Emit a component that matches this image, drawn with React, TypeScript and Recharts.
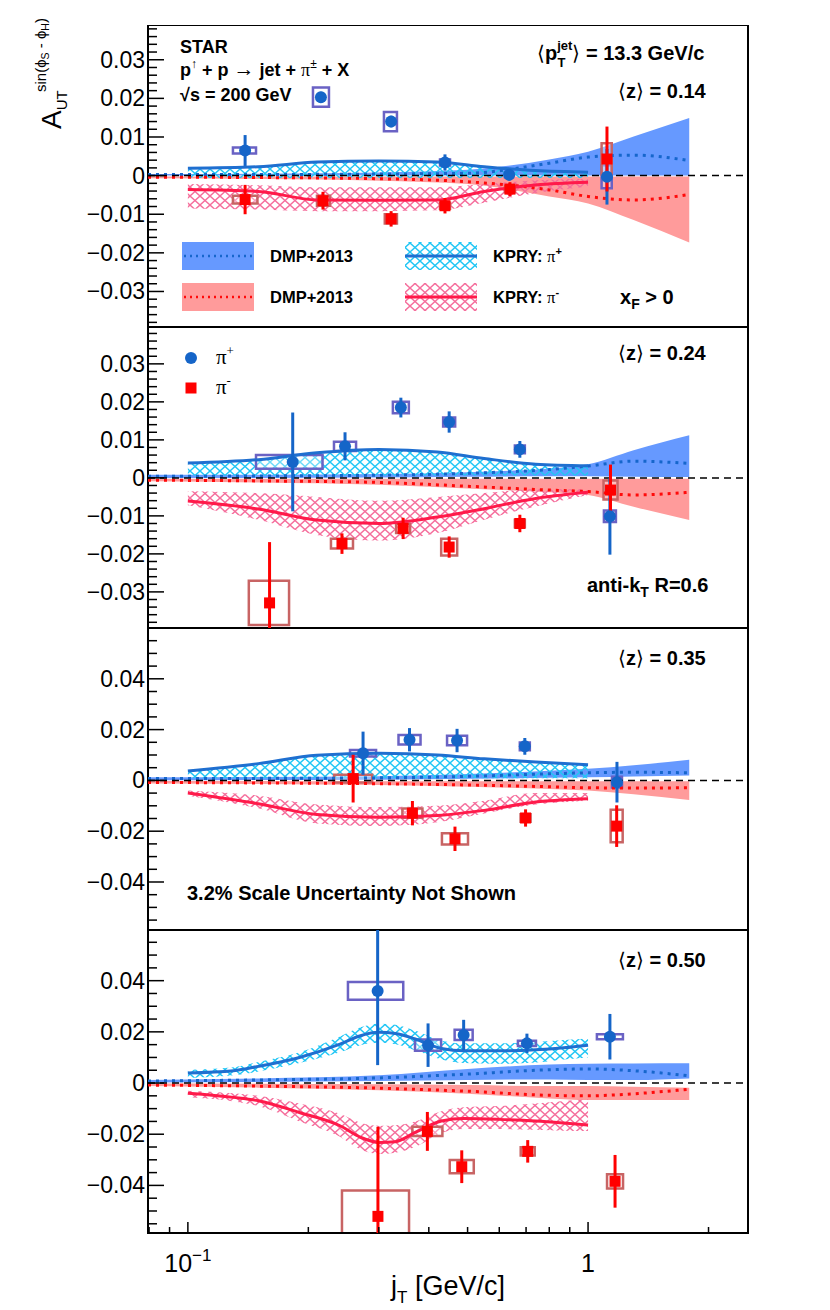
import React from "react";
import {
  ComposedChart, Area, Line, Scatter, ErrorBar, XAxis, YAxis, ReferenceLine, ReferenceArea
} from "recharts";

const FONT = '"Liberation Sans", Arial, Helvetica, sans-serif';
const SERIF = '"Liberation Serif", "DejaVu Serif", serif';

// colours
const BLUE_PT = "#1565c8";
const RED_PT = "#ff0000";
const BOX_BLUE = "#6a62c4";
const BOX_RED = "#c86464";
const BAND_BLUE = "#6699ff";
const BAND_RED = "#ff9b9b";
const DOT_BLUE = "#1666cc";
const DOT_RED = "#ff0a0a";
const LINE_BLUE = "#1f6fd0";
const LINE_RED = "#ff1a4a";
const HATCH_CYAN = "#20c6f5";
const HATCH_PINK = "#f56e9c";

// x axis (log jT)
const X_DOMAIN = [0.0795, 2.51];
const X_MAJOR = [0.1, 1];
const X_MAJOR_LABELS = ["10^−1", "1"];
const X_TICKS = [0.08, 0.09, 0.1, 0.2, 0.3, 0.4, 0.5, 0.6, 0.7, 0.8, 0.9, 1, 2];

// y axis labels
const Y_MAJOR_A = [-0.03, -0.02, -0.01, 0, 0.01, 0.02, 0.03];
const Y_LABELS_A = ["−0.03", "−0.02", "−0.01", "0", "0.01", "0.02", "0.03"];
const Y_MAJOR_B = [-0.04, -0.02, 0, 0.02, 0.04];
const Y_LABELS_B = ["−0.04", "−0.02", "0", "0.02", "0.04"];

// model grids
const dmpX = [0.0795, 0.15, 0.3, 0.5, 0.8, 1.0, 1.3, 1.79];
const kpryX = [0.1, 0.15, 0.21, 0.3, 0.42, 0.55, 0.74, 1.0];
const kpryX4 = [0.1, 0.13, 0.15, 0.19, 0.24, 0.27, 0.3, 0.33, 0.37, 0.43, 0.49, 0.6, 0.74, 0.87, 1.0];

// data rows: [jT, A_UT, stat, sys, box jT low, box jT high]
type Row = number[];

const z14Plus: Row[] = [
  [0.139, 0.0065, 0.004, 0.0008, 0.1296, 0.148],
  [0.215, 0.0203, 0.0014, 0.0025, 0.2054, 0.2252],
  [0.322, 0.014, 0.0015, 0.0025, 0.309, 0.333],
  [0.439, 0.0034, 0.0021, 0.0008, 0.4266, 0.4519],
  [0.635, 0.0002, 0.0015, 0.0006, 0.62, 0.6494],
  [1.115, -0.0003, 0.0072, 0.003, 1.081, 1.146],
];
const z14Minus: Row[] = [
  [0.139, -0.0062, 0.0038, 0.001, 0.1296, 0.1492],
  [0.2176, -0.0065, 0.0023, 0.0013, 0.2102, 0.2265],
  [0.322, -0.0112, 0.002, 0.0012, 0.3105, 0.333],
  [0.439, -0.0078, 0.002, 0.0008, 0.4266, 0.4519],
  [0.638, -0.0035, 0.0018, 0.0008, 0.62, 0.656],
  [1.115, 0.0043, 0.0084, 0.0041, 1.081, 1.146],
];
const z24Plus: Row[] = [
  [0.1828, 0.0042, 0.013, 0.0018, 0.148, 0.217],
  [0.247, 0.0083, 0.0037, 0.0012, 0.2318, 0.2632],
  [0.3406, 0.0185, 0.0026, 0.0015, 0.3253, 0.3566],
  [0.4497, 0.0147, 0.0028, 0.0012, 0.4344, 0.4655],
  [0.6754, 0.0075, 0.0022, 0.001, 0.6563, 0.6951],
  [1.134, -0.0101, 0.0101, 0.0015, 1.0955, 1.1738],
];
const z24Minus: Row[] = [
  [0.16, -0.0329, 0.016, 0.0058, 0.142, 0.179],
  [0.2427, -0.0173, 0.0027, 0.0013, 0.2278, 0.2586],
  [0.345, -0.0133, 0.0028, 0.0012, 0.3314, 0.3592],
  [0.4497, -0.0182, 0.0028, 0.0022, 0.4295, 0.4709],
  [0.6754, -0.012, 0.0023, 0.001, 0.6563, 0.6951],
  [1.138, -0.0032, 0.0067, 0.0025, 1.0931, 1.1848],
];
const z35Plus: Row[] = [
  [0.274, 0.0107, 0.0085, 0.0013, 0.2542, 0.2953],
  [0.358, 0.016, 0.0046, 0.0019, 0.336, 0.3814],
  [0.4706, 0.0157, 0.0046, 0.0019, 0.4443, 0.4985],
  [0.695, 0.0134, 0.0033, 0.0015, 0.6753, 0.7153],
  [1.181, -0.0007, 0.008, 0.0021, 1.1475, 1.2155],
];
const z35Minus: Row[] = [
  [0.2588, 0.0007, 0.0094, 0.0015, 0.232, 0.2887],
  [0.364, -0.0129, 0.0048, 0.0018, 0.3436, 0.3856],
  [0.465, -0.023, 0.0048, 0.0022, 0.4314, 0.5012],
  [0.698, -0.0148, 0.0034, 0.0015, 0.6782, 0.7184],
  [1.179, -0.018, 0.0082, 0.0064, 1.139, 1.2204],
];
const z50Plus: Row[] = [
  [0.298, 0.036, 0.029, 0.0035, 0.2512, 0.3453],
  [0.3983, 0.0148, 0.0085, 0.0022, 0.3695, 0.4293],
  [0.4888, 0.0188, 0.0059, 0.002, 0.4641, 0.5148],
  [0.7035, 0.0155, 0.0038, 0.001, 0.668, 0.741],
  [1.134, 0.0181, 0.0089, 0.001, 1.0522, 1.2222],
];
const z50Minus: Row[] = [
  [0.2985, -0.0521, 0.035, 0.0101, 0.2427, 0.357],
  [0.3967, -0.0189, 0.0076, 0.0018, 0.3639, 0.4325],
  [0.4835, -0.0327, 0.0064, 0.0026, 0.4512, 0.5181],
  [0.7067, -0.0267, 0.0044, 0.0016, 0.6788, 0.7357],
  [1.168, -0.0384, 0.0103, 0.0028, 1.1154, 1.223],
];

// DMP+2013 bands (on dmpX)
const dp1Hi = [0.0004, 0.0005, 0.0008, 0.0015, 0.0042, 0.0062, 0.0101, 0.0149];
const dp1Mid = [0.0003, 0.0003, 0.0004, 0.0006, 0.0032, 0.0048, 0.0053, 0.0039];
const dp1Lo = [0, 0, 0, 0, 0, 0, 0, 0];
const dm1Hi = [-0.0002, -0.0002, -0.0002, -0.0002, -0.0002, -0.0002, -0.0002, -0.0002];
const dm1Mid = [-0.0004, -0.0005, -0.0008, -0.0016, -0.0037, -0.0054, -0.0063, -0.0049];
const dm1Lo = [-0.0007, -0.0009, -0.0013, -0.0022, -0.0054, -0.0072, -0.0115, -0.0173];

const dp2Hi = [0.0008, 0.0008, 0.001, 0.0015, 0.0025, 0.0036, 0.0073, 0.0112];
const dp2Mid = [0.0004, 0.0005, 0.0007, 0.0012, 0.0022, 0.0031, 0.0044, 0.0038];
const dp2Lo = [0, 0, 0.0001, 0.0003, 0.0004, 0.0004, 0.0003, 0.0002];
const dm2Hi = [-0.0002, -0.0002, -0.0002, -0.0002, -0.0002, -0.0002, -0.0002, -0.0002];
const dm2Mid = [-0.0006, -0.0008, -0.0012, -0.0022, -0.0032, -0.0036, -0.0045, -0.0038];
const dm2Lo = [-0.0009, -0.0012, -0.0018, -0.0028, -0.0038, -0.0045, -0.0076, -0.0111];

const dp3Hi = [0.0012, 0.0013, 0.0016, 0.0025, 0.0038, 0.0046, 0.006, 0.0081];
const dp3Mid = [0.0007, 0.0008, 0.001, 0.0016, 0.0026, 0.003, 0.0032, 0.003];
const dp3Lo = [0.0001, 0.0002, 0.0003, 0.0006, 0.001, 0.0012, 0.0015, 0.0019];
const dm3Hi = [-0.0002, -0.0002, -0.0003, -0.0003, -0.0003, -0.0003, -0.0003, -0.0003];
const dm3Mid = [-0.0008, -0.001, -0.0013, -0.0018, -0.0025, -0.0029, -0.003, -0.0029];
const dm3Lo = [-0.0012, -0.0014, -0.0018, -0.0025, -0.0034, -0.004, -0.0055, -0.0077];

const dp4Hi = [0.0012, 0.0018, 0.003, 0.0055, 0.0072, 0.0075, 0.0076, 0.0077];
const dp4Mid = [0.0008, 0.0012, 0.002, 0.0035, 0.0052, 0.0055, 0.0048, 0.0028];
const dp4Lo = [0.0002, 0.0004, 0.0008, 0.0012, 0.0014, 0.0012, 0.0012, 0.0018];
const dm4Hi = [-0.0002, -0.0003, -0.0005, -0.0008, -0.0012, -0.0012, -0.0015, -0.0018];
const dm4Mid = [-0.0008, -0.0012, -0.002, -0.0032, -0.0048, -0.005, -0.0042, -0.0024];
const dm4Lo = [-0.0012, -0.0018, -0.0028, -0.0042, -0.006, -0.0066, -0.0066, -0.0066];

// KPRY curves and bands
const kp1Line = [0.0019, 0.0023, 0.0035, 0.0038, 0.0035, 0.0023, 0.0013, 0.0009];
const kp1Lo = [-0.0006, -0.0006, -0.0006, -0.0006, -0.0006, -0.0006, -0.0006, -0.0006];
const km1Line = [-0.0036, -0.0041, -0.0063, -0.0064, -0.0063, -0.0041, -0.0024, -0.0017];
const km1Hi = [-0.0022, -0.0025, -0.003, -0.003, -0.003, -0.0022, -0.0012, -0.0008];
const km1Lo = [-0.0085, -0.0088, -0.0092, -0.0092, -0.009, -0.007, -0.0045, -0.0028];

const kp2Line = [0.0039, 0.0048, 0.0066, 0.0075, 0.0068, 0.0051, 0.0036, 0.0032];
const kp2Lo = [0.0006, 0.0006, 0.0006, 0.0006, 0.0006, 0.0006, 0.0006, 0.0006];
const km2Line = [-0.0061, -0.0082, -0.0111, -0.012, -0.0103, -0.0081, -0.0054, -0.0038];
const km2Hi = [-0.0035, -0.004, -0.005, -0.006, -0.005, -0.004, -0.003, -0.003];
const km2Lo = [-0.0072, -0.011, -0.015, -0.0165, -0.0145, -0.011, -0.0075, -0.0045];

const kp3Line = [0.0037, 0.0066, 0.0099, 0.0107, 0.01, 0.0085, 0.0072, 0.0062];
const kp3Lo = [0.0008, 0.0008, 0.0008, 0.0008, 0.0008, 0.0008, 0.0008, 0.0008];
const km3Line = [-0.005, -0.0092, -0.0134, -0.0145, -0.0138, -0.0118, -0.0085, -0.0072];
const km3Hi = [-0.004, -0.006, -0.0095, -0.0105, -0.01, -0.008, -0.005, -0.005];
const km3Lo = [-0.006, -0.011, -0.017, -0.018, -0.0165, -0.013, -0.0095, -0.008];

const kp4Line = [0.0039, 0.0048, 0.0065, 0.01, 0.0152, 0.0185, 0.0198, 0.0194, 0.0172, 0.0135, 0.0126, 0.0126, 0.013, 0.0138, 0.0148];
const kp4Hi = [0.0052, 0.0062, 0.0082, 0.012, 0.0182, 0.0218, 0.0232, 0.0228, 0.0205, 0.0165, 0.0155, 0.0155, 0.016, 0.0168, 0.0174];
const kp4Lo = [0.002, 0.003, 0.0045, 0.0078, 0.012, 0.0148, 0.0157, 0.0152, 0.0128, 0.0092, 0.0078, 0.0075, 0.008, 0.0092, 0.01];
const km4Line = [-0.004, -0.0056, -0.0069, -0.0115, -0.0167, -0.0212, -0.0232, -0.0229, -0.0193, -0.0148, -0.0139, -0.0142, -0.0148, -0.0156, -0.0164];
const km4Hi = [-0.003, -0.004, -0.005, -0.008, -0.012, -0.0155, -0.0167, -0.0165, -0.015, -0.011, -0.0095, -0.009, -0.008, -0.007, -0.0063];
const km4Lo = [-0.0056, -0.0072, -0.009, -0.015, -0.021, -0.026, -0.0277, -0.0272, -0.025, -0.0195, -0.018, -0.018, -0.0183, -0.0186, -0.0187];

const PANELS = [
  {
    top: 25, bottom: 327, domain: [-0.0392, 0.039], yMajor: Y_MAJOR_A, yLabels: Y_LABELS_A, yMinor: 0.002,
    plus: z14Plus, minus: z14Minus, kx: kpryX,
    kpLine: kp1Line, kpLo: kp1Lo, kpHi: kp1Line, kmLine: km1Line, kmLo: km1Lo, kmHi: km1Hi,
    dpLo: dp1Lo, dpMid: dp1Mid, dpHi: dp1Hi, dmLo: dm1Lo, dmMid: dm1Mid, dmHi: dm1Hi,
  },
  {
    top: 327, bottom: 628, domain: [-0.0395, 0.0397], yMajor: Y_MAJOR_A, yLabels: Y_LABELS_A, yMinor: 0.002,
    plus: z24Plus, minus: z24Minus, kx: kpryX,
    kpLine: kp2Line, kpLo: kp2Lo, kpHi: kp2Line, kmLine: km2Line, kmLo: km2Lo, kmHi: km2Hi,
    dpLo: dp2Lo, dpMid: dp2Mid, dpHi: dp2Hi, dmLo: dm2Lo, dmMid: dm2Mid, dmHi: dm2Hi,
  },
  {
    top: 628, bottom: 930, domain: [-0.0589, 0.06], yMajor: Y_MAJOR_B, yLabels: Y_LABELS_B, yMinor: 0.005,
    plus: z35Plus, minus: z35Minus, kx: kpryX,
    kpLine: kp3Line, kpLo: kp3Lo, kpHi: kp3Line, kmLine: km3Line, kmLo: km3Lo, kmHi: km3Hi,
    dpLo: dp3Lo, dpMid: dp3Mid, dpHi: dp3Hi, dmLo: dm3Lo, dmMid: dm3Mid, dmHi: dm3Hi,
  },
  {
    top: 930, bottom: 1233, domain: [-0.0586, 0.0598], yMajor: Y_MAJOR_B, yLabels: Y_LABELS_B, yMinor: 0.005,
    plus: z50Plus, minus: z50Minus, kx: kpryX4,
    kpLine: kp4Line, kpLo: kp4Lo, kpHi: kp4Hi, kmLine: km4Line, kmLo: km4Lo, kmHi: km4Hi,
    dpLo: dp4Lo, dpMid: dp4Mid, dpHi: dp4Hi, dmLo: dm4Lo, dmMid: dm4Mid, dmHi: dm4Hi,
  },
];

const band = (xs: number[], lo: number[], hi: number[]) => xs.map((x, i) => ({ x, band: [lo[i], hi[i]] }));
const curve = (xs: number[], ys: number[]) => xs.map((x, i) => ({ x, v: ys[i] }));
// error bars are cut at the frame, like the pad clipping in the original
const points = (rows: Row[], domain: number[]) =>
  rows.map((r) => ({
    x: r[0],
    y: r[1],
    err: [Math.min(r[2], r[1] - domain[0]), Math.min(r[2], domain[1] - r[1])],
  }));

const yTicksFor = (domain: number[], step: number) => {
  const out: number[] = [];
  for (let k = Math.ceil(domain[0] / step + 1e-9); k * step < domain[1] - 1e-9; k++) {
    out.push(Number((k * step).toFixed(4)));
  }
  return out;
};

const XTick = (props: any) => {
  const { x, y, payload, showLabels } = props;
  const i = X_MAJOR.indexOf(payload.value);
  const len = i >= 0 ? 11 : 6;
  let label = null;
  if (showLabels && i >= 0) {
    const [base, exp] = X_MAJOR_LABELS[i].split("^");
    label = (
      <text x={x} y={y + 39} textAnchor="middle" fontFamily={FONT} fontSize={25} fill="#000">
        {base}
        {exp && <tspan fontSize={17} dy={-11}>{exp}</tspan>}
      </text>
    );
  }
  return (
    <g>
      <line x1={x} x2={x} y1={y} y2={y - len} stroke="#000" strokeWidth={1.5} />
      {label}
    </g>
  );
};

const YTick = (props: any) => {
  const { x, y, payload, major, labels } = props;
  const idx = major.findIndex((m: number) => Math.abs(m - payload.value) < 1e-7);
  const isMajor = idx >= 0;
  return (
    <g>
      <line x1={x} x2={x + (isMajor ? 16 : 9)} y1={y} y2={y} stroke="#000" strokeWidth={1.5} />
      {isMajor && (
        <text x={x - 3} y={y + 8} textAnchor="end" fontFamily={FONT} fontSize={23} fill="#000">
          {labels[idx]}
        </text>
      )}
    </g>
  );
};

const circleShape = (p: any) => <circle cx={p.cx} cy={p.cy} r={6} fill={BLUE_PT} />;
const squareShape = (p: any) => <rect x={p.cx - 5.5} y={p.cy - 5.5} width={11} height={11} fill={RED_PT} />;

function Panel({ p, last }: { p: any; last: boolean }) {
  const h = p.bottom - p.top;
  const yTicks = yTicksFor(p.domain, p.yMinor);
  const box = (rows: Row[], color: string, tag: string) =>
    rows.map((r, i) => (
      <ReferenceArea
        key={tag + i}
        x1={r[4]} x2={r[5]} y1={r[1] - r[3]} y2={r[1] + r[3]}
        fill="#ffffff" fillOpacity={0.35}
        stroke={color} strokeWidth={2.5}
        ifOverflow="hidden"
      />
    ));
  return (
    <div style={{ position: "absolute", left: 0, top: p.top }}>
      <ComposedChart width={830} height={h + (last ? 50 : 0)} margin={{ top: 0, right: 82, bottom: 0, left: 0 }}>
        <XAxis
          dataKey="x" type="number" scale="log" domain={X_DOMAIN} allowDataOverflow
          ticks={X_TICKS} interval={0} height={last ? 50 : 0}
          tickSize={0} tickMargin={0} tickLine={false} axisLine={false}
          tick={(t: any) => <XTick {...t} showLabels={last} />}
        />
        <YAxis
          dataKey="y" type="number" domain={p.domain} allowDataOverflow
          ticks={yTicks} interval={0} width={148}
          tickSize={0} tickMargin={0} tickLine={false} axisLine={false}
          tick={(t: any) => <YTick {...t} major={p.yMajor} labels={p.yLabels} />}
        />
        {/* DMP+2013 bands */}
        <Area data={band(dmpX, p.dpLo, p.dpHi)} dataKey="band" type="monotone" fill={BAND_BLUE} fillOpacity={1} stroke="none" isAnimationActive={false} />
        <Area data={band(dmpX, p.dmLo, p.dmHi)} dataKey="band" type="monotone" fill={BAND_RED} fillOpacity={1} stroke="none" isAnimationActive={false} />
        <Line data={curve(dmpX, p.dpMid)} dataKey="v" type="monotone" stroke={DOT_BLUE} strokeWidth={3} strokeDasharray="3 5" dot={false} activeDot={false} isAnimationActive={false} />
        <Line data={curve(dmpX, p.dmMid)} dataKey="v" type="monotone" stroke={DOT_RED} strokeWidth={3} strokeDasharray="3 5" dot={false} activeDot={false} isAnimationActive={false} />
        {/* KPRY hatched bands and curves */}
        <Area data={band(p.kx, p.kpLo, p.kpHi)} dataKey="band" type="monotone" fill="url(#hatchCyan)" fillOpacity={1} stroke="none" isAnimationActive={false} />
        <Area data={band(p.kx, p.kmLo, p.kmHi)} dataKey="band" type="monotone" fill="url(#hatchPink)" fillOpacity={1} stroke="none" isAnimationActive={false} />
        <Line data={curve(p.kx, p.kpLine)} dataKey="v" type="monotone" stroke={LINE_BLUE} strokeWidth={3} dot={false} activeDot={false} isAnimationActive={false} />
        <Line data={curve(p.kx, p.kmLine)} dataKey="v" type="monotone" stroke={LINE_RED} strokeWidth={3} dot={false} activeDot={false} isAnimationActive={false} />
        <ReferenceLine y={0} stroke="#000" strokeWidth={1.5} strokeDasharray="7 5" />
        {box(p.plus, BOX_BLUE, "bp")}
        {box(p.minus, BOX_RED, "bm")}
        <Scatter data={points(p.plus, p.domain)} dataKey="y" shape={circleShape} isAnimationActive={false}>
          <ErrorBar dataKey="err" direction="y" width={0} stroke={BLUE_PT} strokeWidth={3} isAnimationActive={false} />
        </Scatter>
        <Scatter data={points(p.minus, p.domain)} dataKey="y" shape={squareShape} isAnimationActive={false}>
          <ErrorBar dataKey="err" direction="y" width={0} stroke={RED_PT} strokeWidth={3} isAnimationActive={false} />
        </Scatter>
        {/* frame */}
        <ReferenceArea
          x1={X_DOMAIN[0]} x2={X_DOMAIN[1]} y1={p.domain[0]} y2={p.domain[1]}
          fill="none" stroke="#000" strokeWidth={2} ifOverflow="visible"
        />
      </ComposedChart>
    </div>
  );
}

const T = { fontFamily: FONT, fill: "#000" };

export default function App() {
  return (
    <div style={{ position: "absolute", left: 0, top: 0, width: 830, height: 1310, background: "#fff" }}>
      <svg width={0} height={0} style={{ position: "absolute" }}>
        <defs>
          <pattern id="hatchCyan" width={10} height={9} patternUnits="userSpaceOnUse">
            <path d="M0,0 L10,9 M10,0 L0,9" stroke={HATCH_CYAN} strokeWidth={1.4} />
          </pattern>
          <pattern id="hatchPink" width={10} height={9} patternUnits="userSpaceOnUse">
            <path d="M0,0 L10,9 M10,0 L0,9" stroke={HATCH_PINK} strokeWidth={1.4} />
          </pattern>
        </defs>
      </svg>

      {PANELS.map((p, i) => (
        <Panel key={i} p={p} last={i === PANELS.length - 1} />
      ))}

      <svg width={830} height={1310} style={{ position: "absolute", left: 0, top: 0, pointerEvents: "none" }}>
        {/* y axis title */}
        <text transform="translate(61,129) rotate(-90)" {...T}>
          <tspan fontSize={28}>A</tspan>
          <tspan fontSize={15} dy={6}>UT</tspan>
          <tspan x={37} dy={-21} fontSize={15}>sin(ϕ</tspan>
          <tspan fontSize={10.5} dy={3}>S</tspan>
          <tspan fontSize={15} dy={-3}> - ϕ</tspan>
          <tspan fontSize={10.5} dy={3}>H</tspan>
          <tspan fontSize={15} dy={-3}>)</tspan>
        </text>

        {/* x axis title */}
        <text x={448} y={1295} textAnchor="middle" fontSize={27} {...T}>
          j<tspan fontSize={17} dy={8}>T</tspan>
          <tspan dy={-8}> [GeV/c]</tspan>
        </text>

        {/* panel 1 texts */}
        <text x={180} y={53} fontSize={18} fontWeight="bold" {...T}>STAR</text>
        <text x={180} y={76} fontSize={18} fontWeight="bold" {...T}>
          p<tspan fontSize={12} fontWeight="normal" dy={-8}>↑</tspan>
          <tspan dy={8}> + p </tspan>
          <tspan fontWeight="normal" fontSize={21}>→</tspan>
          <tspan> jet + </tspan>
          <tspan fontWeight="normal" fontFamily={SERIF}>π</tspan>
          <tspan fontSize={12} fontWeight="normal" dy={-8}>±</tspan>
          <tspan dy={8}> + X</tspan>
        </text>
        <text x={180} y={101} fontSize={18} fontWeight="bold" {...T}>√s = 200 GeV</text>
        <text x={537} y={60} fontSize={20} fontWeight="bold" {...T}>
          <tspan fontWeight="normal">⟨</tspan>p
          <tspan fontSize={13} dy={-10}>jet</tspan>
          <tspan fontSize={13} dx={-15} dy={17}>T</tspan>
          <tspan fontWeight="normal" dx={7} dy={-7}>⟩</tspan>
          <tspan> = 13.3 GeV/c</tspan>
        </text>
        <text x={618} y={98} fontSize={20} fontWeight="bold" {...T}>
          <tspan fontWeight="normal">⟨</tspan>z<tspan fontWeight="normal">⟩</tspan> = 0.14
        </text>
        <text x={620} y={304} fontSize={20} fontWeight="bold" {...T}>
          x<tspan fontSize={14} dy={5}>F</tspan>
          <tspan dy={-5}> &gt; 0</tspan>
        </text>

        {/* panel 1 legend */}
        <rect x={182} y={242} width={72} height={28} fill={BAND_BLUE} />
        <line x1={184} x2={252} y1={256} y2={256} stroke={DOT_BLUE} strokeWidth={2.5} strokeDasharray="2 4" />
        <text x={270} y={262} fontSize={16.5} fontWeight="bold" {...T}>DMP+2013</text>
        <rect x={182} y={283} width={72} height={28} fill={BAND_RED} />
        <line x1={184} x2={252} y1={297} y2={297} stroke={DOT_RED} strokeWidth={2.5} strokeDasharray="2 4" />
        <text x={270} y={303} fontSize={16.5} fontWeight="bold" {...T}>DMP+2013</text>
        <rect x={405} y={242} width={72} height={28} fill="url(#hatchCyan)" />
        <line x1={405} x2={477} y1={256} y2={256} stroke={LINE_BLUE} strokeWidth={3} />
        <text x={493} y={262} fontSize={16.5} fontWeight="bold" {...T}>
          KPRY: <tspan fontWeight="normal" fontFamily={SERIF}>π</tspan>
          <tspan fontSize={11} dy={-7}>+</tspan>
        </text>
        <rect x={405} y={283} width={72} height={28} fill="url(#hatchPink)" />
        <line x1={405} x2={477} y1={297} y2={297} stroke={LINE_RED} strokeWidth={3} />
        <text x={493} y={303} fontSize={16.5} fontWeight="bold" {...T}>
          KPRY: <tspan fontWeight="normal" fontFamily={SERIF}>π</tspan>
          <tspan fontSize={11} dy={-7}>-</tspan>
        </text>

        {/* panel 2 texts */}
        <circle cx={191} cy={358} r={6} fill={BLUE_PT} />
        <text x={216} y={364} fontSize={21} fontFamily={SERIF} fill="#000">
          π<tspan fontSize={13} dy={-9}>+</tspan>
        </text>
        <rect x={185.5} y={382.5} width={11} height={11} fill={RED_PT} />
        <text x={216} y={394} fontSize={21} fontFamily={SERIF} fill="#000">
          π<tspan fontSize={13} dy={-9}>-</tspan>
        </text>
        <text x={618} y={360} fontSize={20} fontWeight="bold" {...T}>
          <tspan fontWeight="normal">⟨</tspan>z<tspan fontWeight="normal">⟩</tspan> = 0.24
        </text>
        <text x={587} y={592} fontSize={20} fontWeight="bold" {...T}>
          anti-k<tspan fontSize={14} dy={5}>T</tspan>
          <tspan dy={-5}> R=0.6</tspan>
        </text>

        {/* panel 3 texts */}
        <text x={618} y={665} fontSize={20} fontWeight="bold" {...T}>
          <tspan fontWeight="normal">⟨</tspan>z<tspan fontWeight="normal">⟩</tspan> = 0.35
        </text>
        <text x={187} y={900} fontSize={20} fontWeight="bold" {...T}>3.2% Scale Uncertainty Not Shown</text>

        {/* panel 4 texts */}
        <text x={618} y={967} fontSize={20} fontWeight="bold" {...T}>
          <tspan fontWeight="normal">⟨</tspan>z<tspan fontWeight="normal">⟩</tspan> = 0.50
        </text>
      </svg>
    </div>
  );
}
